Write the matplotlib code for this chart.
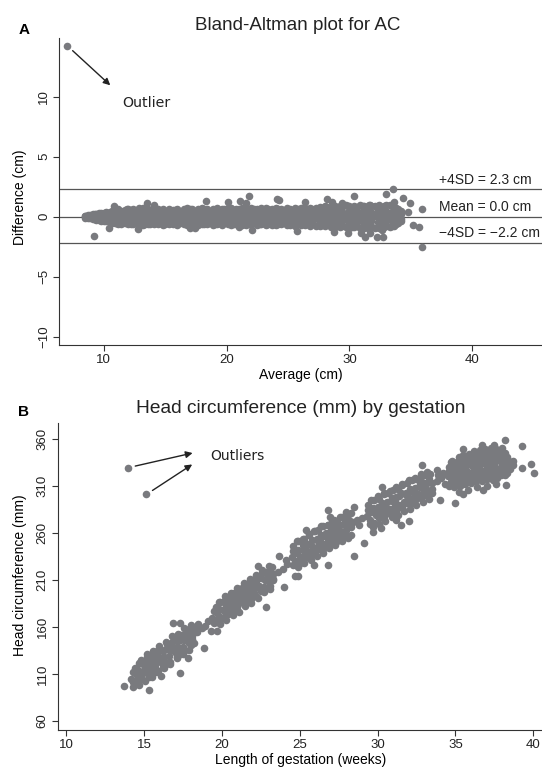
import matplotlib
matplotlib.use('Agg')
import matplotlib.pyplot as plt

plt.rcParams['font.family'] = ['Liberation Sans', 'DejaVu Sans']

# -------------------------
# Panel A data: Bland-Altman for AC (average cm, difference cm)
# -------------------------
ac_avg_edge = [8.7, 9.1, 9.4, 9.8, 10.2, 10.7, 11.0, 11.4, 11.9, 12.2, 12.6, 13.1, 13.4,
               13.8, 14.3, 14.6, 15.0, 15.5, 15.8, 16.2, 16.7, 17.0, 17.4, 17.9, 18.2,
               18.6, 19.1, 19.4, 19.8, 20.3, 20.6, 21.0, 21.5, 21.8, 22.2, 22.7, 23.0,
               23.4, 23.9, 24.2, 24.6, 25.1, 25.4, 25.8, 26.3, 26.6, 27.0, 27.5, 27.8,
               28.2, 28.7, 29.0, 29.4, 29.9, 30.2, 30.6, 31.1, 31.4, 31.8, 32.3, 32.6,
               33.0, 33.5, 33.8, 34.2]
ac_diff_top = [0.12, 0.2, 0.25, 0.3, 0.38, 0.45, 0.6, 0.5, 0.62, 0.55, 0.48, 0.6, 0.7,
               0.52, 0.55, 0.45, 0.5, 0.42, 0.55, 0.48, 0.52, 0.6, 0.5, 0.55, 0.62,
               0.5, 0.58, 0.52, 0.65, 0.7, 0.55, 0.6, 0.52, 0.68, 0.6, 0.5, 0.58,
               0.62, 0.55, 0.6, 0.52, 0.58, 0.5, 0.62, 0.7, 0.58, 0.65, 0.55, 0.75,
               0.8, 0.7, 0.65, 0.8, 0.85, 0.72, 0.8, 0.9, 0.78, 0.85, 0.9, 0.8,
               0.95, 0.85, 0.7, 0.45]
ac_diff_q_up = [0.06, 0.1, 0.12, 0.15, 0.2, 0.25, 0.3, 0.28, 0.32, 0.3, 0.26, 0.3, 0.35,
                0.28, 0.3, 0.25, 0.28, 0.24, 0.3, 0.26, 0.28, 0.32, 0.27, 0.3, 0.33,
                0.27, 0.3, 0.28, 0.34, 0.35, 0.3, 0.32, 0.28, 0.35, 0.32, 0.27, 0.3,
                0.33, 0.3, 0.32, 0.28, 0.3, 0.27, 0.33, 0.36, 0.3, 0.34, 0.3, 0.38,
                0.4, 0.36, 0.34, 0.4, 0.42, 0.38, 0.4, 0.45, 0.4, 0.42, 0.45, 0.4,
                0.48, 0.42, 0.36, 0.24]
ac_diff_q_low = [-0.05, -0.09, -0.13, -0.18, -0.2, -0.28, -0.26, -0.3, -0.27, -0.33, -0.28, -0.26, -0.3,
                 -0.3, -0.26, -0.28, -0.3, -0.27, -0.26, -0.28, -0.26, -0.3, -0.28, -0.26, -0.3,
                 -0.27, -0.3, -0.26, -0.28, -0.27, -0.3, -0.28, -0.26, -0.32, -0.28, -0.3, -0.26,
                 -0.3, -0.28, -0.32, -0.28, -0.3, -0.27, -0.33, -0.3, -0.28, -0.32, -0.3, -0.35,
                 -0.33, -0.38, -0.36, -0.4, -0.38, -0.43, -0.4, -0.45, -0.43, -0.4, -0.45, -0.43,
                 -0.4, -0.38, -0.3, -0.2]
ac_diff_bottom = [-0.1, -0.18, -0.25, -0.35, -0.4, -0.55, -0.5, -0.6, -0.52, -0.65, -0.55, -0.5, -0.6,
                  -0.58, -0.5, -0.55, -0.6, -0.52, -0.5, -0.55, -0.5, -0.6, -0.55, -0.5, -0.58,
                  -0.52, -0.6, -0.5, -0.55, -0.52, -0.6, -0.55, -0.5, -0.62, -0.55, -0.6, -0.5,
                  -0.58, -0.55, -0.62, -0.55, -0.6, -0.52, -0.65, -0.58, -0.55, -0.62, -0.6, -0.68,
                  -0.65, -0.75, -0.7, -0.8, -0.75, -0.85, -0.8, -0.9, -0.85, -0.8, -0.9, -0.85,
                  -0.8, -0.75, -0.6, -0.4]
ac_avg_mid = [8.5, 8.9, 9.3, 9.6, 10.0, 10.5, 10.9, 11.2, 11.7, 12.0, 12.4, 12.9, 13.2,
              13.6, 14.1, 14.4, 14.8, 15.3, 15.6, 16.0, 16.5, 16.8, 17.2, 17.7, 18.0,
              18.4, 18.9, 19.2, 19.6, 20.1, 20.4, 20.8, 21.3, 21.6, 22.0, 22.5, 22.8,
              23.2, 23.7, 24.0, 24.4, 24.9, 25.2, 25.6, 26.1, 26.4, 26.8, 27.3, 27.6,
              28.0, 28.5, 28.8, 29.2, 29.7, 30.0, 30.4, 30.9, 31.2, 31.6, 32.1, 32.4,
              32.8, 33.3, 33.6, 34.0]
ac_diff_mid = [0.02, -0.03, 0.05, 0.0, -0.05, 0.08, 0.02, -0.06, 0.1, 0.0, 0.05, -0.08, 0.06,
               0.02, -0.04, 0.08, 0.0, 0.05, -0.06, 0.03, 0.1, -0.02, 0.04, 0.0, -0.08,
               0.06, 0.02, 0.08, -0.04, 0.05, 0.0, 0.1, -0.05, 0.03, 0.06, -0.02, 0.08,
               0.0, 0.04, -0.06, 0.05, 0.02, 0.1, -0.03, 0.06, 0.0, 0.04, -0.05, 0.08,
               0.02, 0.05, -0.04, 0.1, 0.0, 0.06, -0.02, 0.08, 0.03, -0.05, 0.06, 0.1,
               0.0, 0.04, -0.02, 0.05]
ac_diff_outer_up = [0.08, 0.15, 0.2, 0.28, 0.32, 0.42, 0.5, 0.62, 0.58, 0.68, 0.62, 0.7, 0.76,
                    0.62, 0.65, 0.6, 0.68, 0.62, 0.56, 0.68, 0.62, 0.72, 0.64, 0.6, 0.7,
                    0.64, 0.62, 0.72, 0.68, 0.76, 0.7, 0.64, 0.76, 0.68, 0.72, 0.62, 0.7,
                    0.74, 0.68, 0.72, 0.64, 0.72, 0.68, 0.76, 0.7, 0.74, 0.7, 0.76, 0.8,
                    0.85, 0.8, 0.9, 0.85, 0.95, 0.88, 0.9, 0.95, 0.85, 1.0, 0.92, 0.95,
                    0.9, 0.98, 0.8, 0.65]
ac_diff_outer_low = [-0.08, -0.14, -0.18, -0.25, -0.32, -0.42, -0.55, -0.62, -0.56, -0.65, -0.62, -0.68, -0.72,
                     -0.64, -0.62, -0.64, -0.7, -0.62, -0.6, -0.68, -0.64, -0.7, -0.62, -0.68, -0.64,
                     -0.62, -0.7, -0.64, -0.68, -0.62, -0.7, -0.64, -0.68, -0.72, -0.64, -0.7, -0.62,
                     -0.68, -0.72, -0.7, -0.64, -0.72, -0.68, -0.74, -0.7, -0.72, -0.76, -0.74, -0.8,
                     -0.78, -0.85, -0.82, -0.9, -0.88, -0.95, -0.9, -0.98, -0.92, -1.0, -0.95, -0.95,
                     -0.9, -0.88, -0.75, -0.55]
ac_avg_scatter = [9.24, 10.85, 13.52, 14.09, 18.31, 20.14, 21.13, 21.83, 21.6, 24.1, 24.3,
                  26.35, 28.2, 28.6, 29.4, 30.4, 31.7, 32.96, 33.52, 33.6, 34.33, 34.95,
                  34.8, 35.9, 35.2, 35.7, 35.95, 22.1, 17.04, 17.46, 12.82, 10.42, 25.77,
                  28.73, 29.86, 30.99, 31.27, 32.26, 32.76, 31.7, 32.7, 21.0]
ac_diff_scatter = [-1.61, 0.92, 1.17, 1.0, 1.28, 1.22, 1.31, 1.72, 1.1, 1.47, 1.4,
                   1.22, 1.5, 1.2, 1.1, 1.75, 1.0, 1.86, 2.33, 1.2, 1.53, 1.17,
                   0.4, 0.61, -0.69, -0.83, -2.5, -1.11, -0.97, -0.97, -1.05, -0.97, -1.17,
                   -1.31, -1.39, -1.39, -1.72, -1.72, -1.67, -1.36, -1.1, -0.9]
ac_outlier = (7.04, 14.25)
ac_limits = [2.3, 0.0, -2.2]
ac_limit_labels = ['+4SD = 2.3 cm', 'Mean = 0.0 cm', '\u22124SD = \u22122.2 cm']

# -------------------------
# Panel B data: head circumference (mm) by gestation (weeks)
# -------------------------
hc_ga_mid = [14.2, 14.5, 14.9, 15.1, 15.4, 15.8, 16.0, 16.3, 16.7, 16.9, 17.2, 17.6, 17.8, 18.1, 18.4,
             19.4, 19.7, 20.1, 20.3, 20.6, 21.0, 21.2, 21.5, 21.9, 22.1, 22.4, 22.8, 23.0, 23.3,
             24.5, 24.8, 25.2, 25.4, 25.7, 26.1, 26.3, 26.6, 27.0, 27.2, 27.5, 27.9, 28.1, 28.4,
             29.3, 29.6, 30.0, 30.2, 30.5, 30.9, 31.1, 31.4, 31.8, 32.0, 32.3, 32.7, 32.9, 33.2, 33.5,
             34.5, 34.8, 35.2, 35.4, 35.7, 36.1, 36.3, 36.6, 37.0, 37.2, 37.5, 37.9, 38.1, 38.4, 38.7]
hc_mm_mid = [105, 110, 112, 116, 119, 122, 126, 128, 135, 137, 139, 146, 148, 150, 155,
             170, 175, 178, 182, 185, 188, 192, 194, 200, 202, 204, 210, 211, 216,
             234, 239, 242, 246, 247, 253, 252, 257, 258, 262, 263, 268, 268, 272,
             278, 282, 284, 288, 289, 294, 295, 299, 300, 304, 304, 309, 309, 313, 313,
             321, 325, 324, 328, 327, 330, 329, 332, 331, 333, 332, 335, 333, 334, 332]
hc_ga_up = [14.4, 14.7, 15.0, 15.2, 15.6, 15.9, 16.1, 16.5, 16.8, 17.0, 17.4, 17.7, 17.9, 18.3,
            19.6, 19.9, 20.2, 20.5, 20.8, 21.1, 21.3, 21.7, 22.0, 22.3, 22.6, 22.9, 23.2,
            24.6, 24.9, 25.3, 25.6, 25.9, 26.2, 26.5, 26.8, 27.1, 27.4, 27.7, 28.0, 28.3,
            29.4, 29.8, 30.1, 30.4, 30.7, 31.0, 31.3, 31.6, 31.9, 32.2, 32.5, 32.8, 33.1, 33.4,
            34.6, 34.9, 35.3, 35.6, 35.9, 36.2, 36.5, 36.8, 37.1, 37.4, 37.7, 38.0, 38.3]
hc_mm_up = [116, 122, 123, 128, 131, 135, 136, 142, 144, 148, 151, 156, 158, 160,
            181, 187, 189, 193, 196, 200, 201, 206, 210, 212, 217, 219, 224,
            246, 251, 254, 258, 262, 263, 267, 268, 272, 273, 277, 278, 281,
            290, 295, 296, 301, 303, 306, 307, 311, 313, 316, 317, 320, 322, 323,
            330, 334, 333, 336, 337, 338, 339, 341, 340, 342, 341, 343, 341]
hc_ga_q1 = [14.3, 14.6, 15.0, 15.3, 15.5, 15.9, 16.2, 16.4, 16.8, 17.1, 17.3, 17.7, 18.0, 18.2,
            19.5, 19.8, 20.2, 20.4, 20.7, 21.1, 21.3, 21.6, 22.0, 22.2, 22.5, 22.9, 23.1,
            24.6, 24.9, 25.2, 25.5, 25.8, 26.1, 26.4, 26.7, 27.0, 27.3, 27.6, 27.9, 28.2,
            29.4, 29.7, 30.0, 30.3, 30.6, 30.9, 31.2, 31.5, 31.8, 32.1, 32.4, 32.7, 33.0, 33.3,
            34.6, 35.0, 35.3, 35.6, 35.9, 36.2, 36.5, 36.8, 37.1, 37.4, 37.7, 38.0, 38.3, 38.6]
hc_mm_q1 = [112, 114, 120, 122, 126, 129, 134, 137, 140, 145, 146, 152, 154, 158,
            177, 179, 185, 186, 191, 194, 198, 200, 206, 207, 212, 216, 218,
            241, 242, 247, 248, 252, 254, 258, 260, 263, 267, 268, 273, 274,
            284, 287, 288, 292, 293, 297, 298, 302, 303, 307, 308, 312, 313, 317,
            326, 328, 331, 331, 333, 333, 335, 335, 337, 336, 338, 338, 339, 336]
hc_ga_q3 = [14.5, 14.8, 15.2, 15.4, 15.7, 16.1, 16.3, 16.6, 17.0, 17.2, 17.5, 17.9, 18.1,
            19.6, 19.9, 20.3, 20.5, 20.9, 21.2, 21.5, 21.8, 22.1, 22.4, 22.7, 23.0, 23.3,
            24.7, 25.0, 25.3, 25.6, 25.9, 26.2, 26.5, 26.8, 27.1, 27.4, 27.7, 28.0, 28.3,
            29.5, 29.9, 30.2, 30.5, 30.8, 31.1, 31.4, 31.7, 32.0, 32.3, 32.6, 32.9, 33.2, 33.5,
            34.7, 35.1, 35.4, 35.7, 36.0, 36.4, 36.7, 37.0, 37.3, 37.6, 37.9, 38.2, 38.5]
hc_mm_q3 = [103, 108, 111, 115, 117, 123, 124, 129, 133, 136, 139, 143, 147,
            167, 171, 175, 179, 182, 187, 189, 194, 196, 201, 203, 208, 211,
            230, 234, 236, 240, 242, 246, 248, 251, 255, 257, 260, 263, 266,
            274, 279, 280, 284, 285, 289, 290, 293, 296, 297, 301, 302, 306, 307,
            318, 322, 322, 325, 324, 327, 326, 328, 329, 328, 330, 331, 328]
hc_ga_low = [14.3, 14.6, 14.9, 15.3, 15.5, 15.8, 16.2, 16.4, 16.7, 17.1, 17.3, 17.6, 18.0, 18.2,
             19.5, 19.8, 20.1, 20.4, 20.7, 21.0, 21.4, 21.6, 21.9, 22.2, 22.5, 22.8, 23.1,
             24.6, 25.0, 25.3, 25.6, 25.8, 26.2, 26.5, 26.8, 27.1, 27.4, 27.7, 28.0, 28.3,
             29.5, 29.8, 30.1, 30.4, 30.7, 31.0, 31.3, 31.6, 31.9, 32.2, 32.5, 32.8, 33.1, 33.4,
             34.7, 35.0, 35.3, 35.6, 35.9, 36.2, 36.5, 36.8, 37.1, 37.4, 37.7, 38.0, 38.3]
hc_mm_low = [102, 103, 105, 107, 111, 112, 117, 121, 123, 128, 131, 134, 141, 143,
             164, 165, 170, 174, 176, 181, 184, 188, 190, 193, 198, 200, 204,
             226, 228, 232, 237, 237, 243, 243, 247, 250, 251, 255, 258, 258,
             270, 271, 276, 277, 281, 283, 287, 288, 292, 292, 296, 297, 300, 302,
             314, 316, 318, 319, 320, 322, 322, 324, 323, 325, 324, 326, 324]
hc_ga_out_up = [14.8, 15.2, 15.6, 16.0, 16.4, 16.8, 17.2, 17.6, 18.0,
                19.8, 20.2, 20.6, 21.0, 21.4, 21.8, 22.2, 22.6, 23.0,
                24.8, 25.2, 25.6, 26.0, 26.4, 26.8, 27.2, 27.6, 28.0,
                29.6, 30.0, 30.4, 30.8, 31.2, 31.6, 32.0, 32.4, 32.8, 33.2,
                34.7, 35.1, 35.4, 35.8, 36.1, 36.4, 36.8, 37.1, 37.5, 37.8, 38.2]
hc_mm_out_up = [125, 131, 134, 140, 144, 150, 153, 159, 162,
                187, 193, 196, 202, 207, 211, 215, 221, 225,
                251, 254, 259, 262, 267, 269, 274, 277, 282,
                295, 299, 303, 305, 309, 312, 316, 318, 323, 325,
                335, 336, 339, 340, 340, 342, 343, 345, 344, 346, 345]
hc_ga_out_low = [14.7, 15.1, 15.5, 15.9, 16.3, 16.7, 17.1, 17.5, 17.9,
                 19.9, 20.3, 20.7, 21.1, 21.5, 21.9, 22.3, 22.7, 23.1,
                 24.9, 25.3, 25.7, 26.1, 26.5, 26.9, 27.3, 27.7, 28.1,
                 29.7, 30.1, 30.5, 30.9, 31.3, 31.7, 32.1, 32.5, 32.9, 33.3,
                 35.2, 35.8, 36.4, 37.0, 37.6,
                 34.6, 35.0, 35.4, 35.7, 36.1, 36.4, 36.8, 37.2, 37.5, 37.9, 38.2]
hc_mm_out_low = [98, 103, 107, 113, 116, 121, 127, 131, 136,
                 163, 167, 173, 176, 182, 186, 191, 197, 200,
                 224, 228, 231, 236, 239, 244, 247, 251, 255,
                 266, 270, 273, 277, 279, 283, 286, 290, 293, 296,
                 304, 306, 309, 310, 312,
                 310, 313, 315, 316, 317, 319, 320, 320, 322, 322, 322]
hc_ga_top = [34.8, 35.2, 35.5, 35.9, 36.2, 36.6, 36.9, 37.3, 37.6, 38.0]
hc_mm_top = [337, 341, 343, 344, 347, 348, 349, 350, 349, 350]
hc_ga_bot = [34.9, 35.3, 35.6, 36.0, 36.3, 36.7, 37.0, 37.4, 37.7]
hc_mm_bot = [309, 310, 312, 313, 315, 315, 317, 316, 318]
hc_ga_scatter = [13.73, 14.29, 15.3,
                 17.3, 17.85, 16.1, 16.9, 17.3, 18.85, 18.5,
                 18.7, 18.9, 19.3, 19.7, 19.1,
                 22.85, 22.3, 24.0, 23.3,
                 23.6, 23.9, 24.2, 23.7, 24.1, 24.7, 24.9,
                 25.4, 26.8, 26.95, 25.9, 26.8, 28.5,
                 28.7, 29.0, 28.8, 29.1, 29.7, 30.2, 28.5,
                 31.5, 32.0, 31.2, 32.85, 33.85, 34.0, 30.3, 33.5,
                 33.8, 34.1, 34.3, 33.9, 34.2,
                 38.2, 39.3, 39.85, 40.05, 39.3, 38.7, 38.25, 36.7, 37.5, 35.5, 35.0, 35.5, 36.8]
hc_mm_scatter = [97, 96, 93,
                 111, 127, 108, 164, 164, 138, 163,
                 159, 161, 156, 156, 166,
                 181, 225, 203, 210,
                 219, 222, 227, 235, 231, 214, 214,
                 263, 284, 277, 226, 226, 235,
                 274, 276, 268, 249, 261, 265, 288,
                 268, 273, 274, 332, 327, 295, 309, 303,
                 315, 318, 312, 322, 324,
                 359, 353, 333, 324, 329, 337, 311, 354, 354, 349, 292, 301, 306]
hc_outliers_ga = [14.0, 15.15]
hc_outliers_mm = [329, 301]

dot = '#797a7e'
ink = '#222222'
msize = 30

fig = plt.figure(figsize=(5.42, 7.67), dpi=100)

# -------------------------
# Panel A
# -------------------------
ax1 = fig.add_axes([0.1096, 0.5502, 0.8904, 0.3998])
for yv in ac_limits:
    ax1.axhline(yv, color='#555555', lw=0.9, zorder=1)
for dy in (ac_diff_top, ac_diff_q_up, ac_diff_q_low, ac_diff_bottom):
    ax1.scatter(ac_avg_edge, dy, s=msize, c=dot, lw=0, zorder=2)
for dy in (ac_diff_mid, ac_diff_outer_up, ac_diff_outer_low):
    ax1.scatter(ac_avg_mid, dy, s=msize, c=dot, lw=0, zorder=2)
ax1.scatter(ac_avg_scatter, ac_diff_scatter, s=msize, c=dot, lw=0, zorder=2)
ax1.scatter([ac_outlier[0]], [ac_outlier[1]], s=msize, c=dot, lw=0, zorder=2)

ax1.annotate('', xy=(10.7, 10.8), xytext=(7.3, 14.0),
             arrowprops=dict(arrowstyle='-|>', color=ink, lw=1, mutation_scale=10))
ax1.text(11.5, 9.45, 'Outlier', family='DejaVu Sans', fontsize=10.2, color='#222222',
         ha='left', va='center')

label_y = [3.06, 0.81, -1.36]
for yv, txt in zip(label_y, ac_limit_labels):
    ax1.text(37.3, yv, txt, fontsize=10, color='#222222', ha='left', va='center')

ax1.set_xlim(6.39, 45.69)
ax1.set_ylim(-10.7, 14.87)
ax1.set_xticks([10, 20, 30, 40])
ax1.set_yticks([-10, -5, 0, 5, 10])
for lab in ax1.get_yticklabels():
    lab.set_rotation(90)
    lab.set_va('center')

ax1.set_xlabel('Average (cm)', fontsize=10)
ax1.xaxis.set_label_coords(0.50, -0.098)
ax1.xaxis.label.set_va('center')
ax1.set_ylabel('Difference (cm)', fontsize=10)
ax1.yaxis.set_label_coords(-0.0823, 0.481)
ax1.yaxis.label.set_va('center')

# -------------------------
# Panel B
# -------------------------
ax2 = fig.add_axes([0.1066, 0.0482, 0.8934, 0.4007])
for gx, gy in [(hc_ga_mid, hc_mm_mid), (hc_ga_up, hc_mm_up), (hc_ga_q1, hc_mm_q1),
               (hc_ga_q3, hc_mm_q3), (hc_ga_low, hc_mm_low),
               (hc_ga_out_up, hc_mm_out_up), (hc_ga_out_low, hc_mm_out_low),
               (hc_ga_top, hc_mm_top), (hc_ga_bot, hc_mm_bot),
               (hc_ga_scatter, hc_mm_scatter), (hc_outliers_ga, hc_outliers_mm)]:
    ax2.scatter(gx, gy, s=msize, c=dot, lw=0, zorder=2)

ax2.annotate('', xy=(18.3, 345.7), xytext=(14.27, 330.5),
             arrowprops=dict(arrowstyle='-|>', color=ink, lw=1, mutation_scale=10))
ax2.annotate('', xy=(18.25, 334.5), xytext=(15.4, 303.6),
             arrowprops=dict(arrowstyle='-|>', color=ink, lw=1, mutation_scale=10))
ax2.text(19.25, 342, 'Outliers', family='DejaVu Sans', fontsize=10, color='#222222',
         ha='left', va='center')

ax2.set_xlim(9.47, 40.56)
ax2.set_ylim(50.4, 377.3)
ax2.set_xticks([10, 15, 20, 25, 30, 35, 40])
ax2.set_yticks([60, 110, 160, 210, 260, 310, 360])
for lab in ax2.get_yticklabels():
    lab.set_rotation(90)
    lab.set_va('center')

ax2.set_xlabel('Length of gestation (weeks)', fontsize=10)
ax2.xaxis.set_label_coords(0.5017, -0.0976)
ax2.xaxis.label.set_va('center')
ax2.set_ylabel('Head circumference (mm)', fontsize=10)
ax2.yaxis.set_label_coords(-0.0787, 0.504)
ax2.yaxis.label.set_va('center')

for ax in (ax1, ax2):
    ax.spines['top'].set_visible(False)
    ax.spines['right'].set_visible(False)
    ax.spines['left'].set_color('#333333')
    ax.spines['bottom'].set_color('#333333')
    ax.tick_params(direction='out', length=4.5, width=0.8, color='#333333',
                   labelsize=9.5, labelcolor='#222222', pad=2)

# titles and panel letters
fig.text(0.549, 0.9674, 'Bland-Altman plot for AC', fontsize=13.5, ha='center', va='center',
         color='#222222')
fig.text(0.5548, 0.468, 'Head circumference (mm) by gestation', fontsize=13.8, ha='center',
         va='center', color='#222222')
fig.text(0.0441, 0.9609, 'A', fontsize=11, fontweight='bold', ha='center', va='center')
fig.text(0.0441, 0.4628, 'B', fontsize=11, fontweight='bold', ha='center', va='center')

fig.savefig('out.png', dpi=100)
